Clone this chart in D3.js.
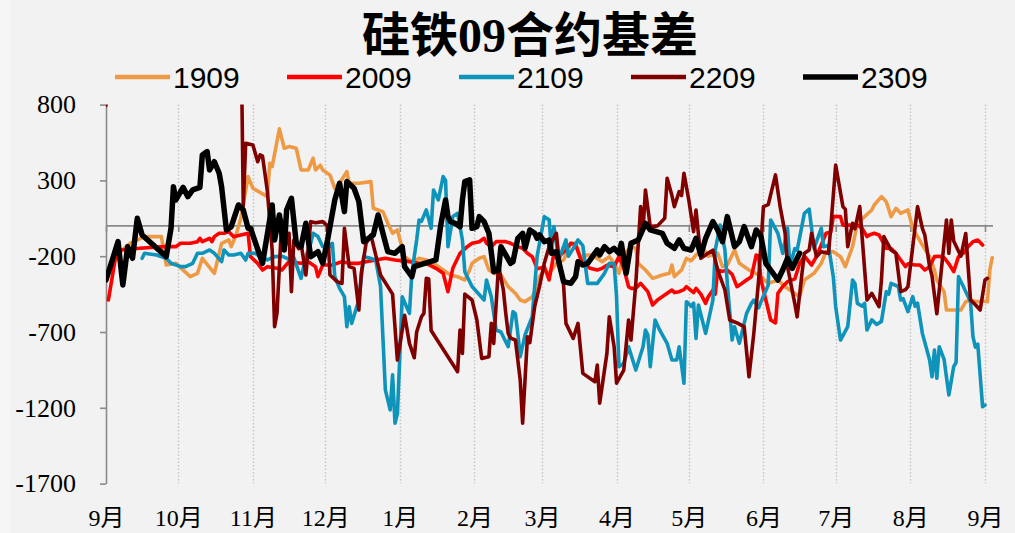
<!DOCTYPE html>
<html>
<head>
<meta charset="utf-8">
<script src="https://cdn.jsdelivr.net/npm/d3@7"></script>
<style>
  html, body { margin: 0; padding: 0; background: #f2f2f2; }
  svg { display: block; }
</style>
</head>
<body>
<svg id="chart" width="1015" height="533"></svg>
<script>
// Basis of the ferrosilicon September contracts, one series per contract year.
// Each point is [month-day, basis]; the year rolls over when the month wraps.
const s1909 = [["09-03",-269],["09-07",-170],["09-11",-115],["09-17",-71],["09-24",-71],["09-26",-258],["09-30",-247],["10-06",-335],["10-09",-313],["10-11",-214],["10-16",-313],["10-19",-115],["10-22",-93],["10-23",-137],["10-25",-60],["10-27",50],["10-30",325],["11-01",248],["11-07",193],["11-08",413],["11-09",391],["11-12",640],["11-14",512],["11-16",523],["11-19",512],["11-21",369],["11-24",369],["11-26",446],["11-27",369],["11-29",400],["11-30",369],["12-03",336],["12-05",248],["12-07",281],["12-10",358],["12-11",281],["12-15",281],["12-20",292],["12-21",116],["12-23",105],["12-25",94],["12-27",17],["12-29",-49],["12-31",-27],["01-02",-148],["01-03",-203],["01-06",-236],["01-09",-214],["01-12",-225],["01-15",-247],["01-18",-280],["01-22",-324],["01-25",-335],["01-28",-357],["01-30",-291],["01-31",-247],["02-03",-214],["02-05",-203],["02-07",-291],["02-09",-313],["02-12",-324],["02-15",-401],["02-18",-445],["02-20",-489],["02-22",-500],["02-25",-467],["02-27",-401],["02-28",-335],["03-02",-291],["03-04",-313],["03-07",-247],["03-10",-225],["03-13",-115],["03-15",-115],["03-17",-203],["03-20",-192],["03-22",-192],["03-26",-236],["03-29",-203],["03-31",-247],["04-02",-313],["04-04",-192],["04-07",-137],["04-09",-148],["04-10",-247],["04-13",-291],["04-16",-346],["04-20",-324],["04-23",-313],["04-24",-258],["04-25",-335],["04-28",-291],["04-30",-214],["05-02",-230],["05-04",-192],["05-07",-148],["05-09",-200],["05-13",-181],["05-15",-269],["05-17",-258],["05-20",-159],["05-22",-247],["05-26",-291],["05-30",-324],["06-03",-379],["06-07",-357],["06-10",-401],["06-13",-434],["06-16",-467],["06-18",-357],["06-22",-313],["06-25",-247],["06-27",-170],["06-30",-170],["07-03",-203],["07-05",-269],["07-08",-137],["07-10",17],["07-13",61],["07-16",105],["07-17",138],["07-20",193],["07-22",160],["07-24",61],["07-26",116],["07-28",83],["07-31",105],["08-02",-16],["08-04",-71],["08-06",-126],["08-09",-203],["08-11",-291],["08-12",-357],["08-15",-434],["08-16",-555],["08-19",-555],["08-22",-555],["08-24",-500],["08-26",-490],["08-29",-500],["08-31",-495],["09-02",-500],["09-03",-291],["09-04",-210]];

const s2009 = [["09-02",-489],["09-05",-203],["09-07",-159],["09-15",-148],["09-25",-137],["09-30",-137],["10-02",-115],["10-06",-115],["10-09",-104],["10-10",-82],["10-11",-104],["10-14",-82],["10-15",-104],["10-16",-71],["10-18",-49],["10-20",-49],["10-22",-38],["10-24",-71],["10-27",-60],["10-30",-49],["10-31",-203],["11-03",-247],["11-05",-291],["11-07",-269],["11-11",-280],["11-13",-291],["11-16",-236],["11-21",-247],["11-24",-236],["11-27",-269],["11-28",-335],["11-30",-258],["12-04",-258],["12-08",-236],["12-11",-247],["12-15",-247],["12-18",-236],["12-22",-225],["12-26",-214],["12-30",-225],["01-05",-236],["01-09",-247],["01-12",-247],["01-16",-280],["01-19",-313],["01-21",-434],["01-23",-280],["01-24",-247],["01-26",-181],["01-29",-137],["01-31",-115],["02-03",-104],["02-05",-82],["02-06",-115],["02-08",-137],["02-10",-104],["02-14",-104],["02-16",-115],["02-19",-137],["02-21",-148],["02-23",-181],["02-25",-203],["02-27",-280],["02-28",-280],["03-02",-269],["03-04",-357],["03-06",-181],["03-08",-203],["03-11",-159],["03-13",-115],["03-15",-125],["03-17",-214],["03-19",-258],["03-21",-280],["03-24",-291],["03-26",-280],["03-28",-260],["03-31",-269],["04-02",-203],["04-04",-280],["04-06",-401],["04-07",-412],["04-09",-412],["04-11",-379],["04-14",-434],["04-16",-522],["04-18",-489],["04-21",-456],["04-24",-423],["04-25",-440],["04-27",-434],["04-29",-420],["04-30",-401],["05-03",-440],["05-04",-412],["05-06",-450],["05-08",-511],["05-09",-470],["05-11",-423],["05-12",-450],["05-13",-291],["05-15",-300],["05-17",-291],["05-19",-320],["05-21",-401],["05-23",-380],["05-25",-357],["05-27",-335],["05-29",-192],["05-30",-200],["05-31",-357],["06-02",-489],["06-04",-621],["06-06",-640],["06-07",-445],["06-09",-400],["06-11",-368],["06-14",-350],["06-16",-250],["06-18",-200],["06-21",-258],["06-23",-203],["06-27",-49],["06-29",-40],["06-30",61],["07-03",61],["07-04",5],["07-07",5],["07-10",5],["07-12",-16],["07-14",-71],["07-15",-60],["07-17",-49],["07-19",-60],["07-22",-148],["07-24",-150],["07-26",-181],["07-28",-225],["07-30",-269],["07-31",-250],["08-03",-258],["08-05",-258],["08-07",-291],["08-09",-270],["08-11",-203],["08-13",-200],["08-15",-210],["08-17",-250],["08-19",-302],["08-21",-203],["08-23",-180],["08-25",-137],["08-27",-104],["08-29",-93],["08-31",-126]];

const s2109 = [["09-16",-214],["09-17",-181],["09-22",-192],["09-26",-214],["09-28",-247],["10-02",-269],["10-04",-269],["10-07",-247],["10-09",-181],["10-11",-181],["10-14",-159],["10-16",-181],["10-19",-236],["10-20",-159],["10-22",-192],["10-24",-192],["10-27",-181],["10-29",-225],["10-30",-181],["11-02",-181],["11-04",-203],["11-07",-225],["11-10",-203],["11-13",-200],["11-16",-220],["11-18",-210],["11-21",-346],["11-23",-203],["11-25",-115],["11-26",-49],["11-28",-70],["11-30",-137],["12-02",-150],["12-04",-115],["12-05",-335],["12-07",-412],["12-09",-467],["12-10",-665],["12-11",-533],["12-12",-643],["12-15",-489],["12-17",-203],["12-19",-210],["12-22",-225],["12-24",-401],["12-26",-1082],["12-28",-1214],["12-29",-983],["12-30",-1302],["12-31",-1240],["01-01",-860],["01-02",-467],["01-05",-577],["01-06",-313],["01-08",-93],["01-09",39],["01-10",30],["01-12",105],["01-14",-16],["01-15",237],["01-17",171],["01-19",325],["01-20",300],["01-21",-137],["01-23",61],["01-25",83],["01-27",-93],["01-28",-302],["01-31",-400],["02-05",-489],["02-06",-357],["02-08",-467],["02-10",-687],["02-12",-700],["02-15",-797],["02-17",-566],["02-18",-580],["02-19",-709],["02-20",-863],["02-22",-720],["02-25",-599],["02-27",-203],["02-28",-115],["03-02",61],["03-04",40],["03-05",-159],["03-06",-5],["03-08",-225],["03-11",-93],["03-12",-200],["03-14",-150],["03-16",-93],["03-18",-130],["03-20",-379],["03-24",-379],["03-27",-313],["03-29",-247],["03-31",-250],["04-01",-467],["04-02",-929],["04-04",-907],["04-06",-797],["04-09",-951],["04-12",-797],["04-13",-687],["04-14",-720],["04-15",-929],["04-17",-621],["04-19",-690],["04-22",-775],["04-24",-885],["04-26",-885],["04-27",-797],["04-29",-1038],["04-30",-500],["05-02",-530],["05-03",-510],["05-04",-742],["05-05",-522],["05-08",-709],["05-11",-489],["05-12",-159],["05-14",5],["05-16",-159],["05-17",-379],["05-19",-753],["05-20",-665],["05-22",-775],["05-25",-577],["05-27",-511],["05-28",-490],["05-30",-540],["05-31",-500],["06-03",-390],["06-04",39],["06-07",-49],["06-09",-181],["06-11",-16],["06-12",-269],["06-14",-150],["06-15",-160],["06-18",83],["06-20",110],["06-22",-148],["06-25",-16],["06-26",-137],["06-28",-130],["06-30",-335],["07-01",-533],["07-03",-753],["07-06",-665],["07-08",-357],["07-09",-380],["07-10",-511],["07-12",-530],["07-13",-511],["07-14",-687],["07-16",-620],["07-18",-650],["07-20",-630],["07-22",-434],["07-23",-450],["07-24",-379],["07-27",-400],["07-28",-489],["07-29",-480],["07-31",-566],["08-02",-467],["08-03",-530],["08-04",-510],["08-06",-709],["08-09",-885],["08-10",-995],["08-11",-819],["08-12",-1005],["08-13",-797],["08-15",-880],["08-17",-1115],["08-19",-929],["08-20",-900],["08-21",-335],["08-23",-400],["08-25",-467],["08-26",-500],["08-27",-731],["08-28",-800],["08-29",-780],["08-31",-1193],["09-01",-1182]];

const s2209 = [["09-01",795],["09-02",1600],["10-26",1600],["10-27",1400],["10-28",130],["10-29",545],["11-01",534],["11-03",423],["11-04",468],["11-05",460],["11-07",230],["11-09",-159],["11-10",-665],["11-11",-577],["11-13",39],["11-14",-159],["11-16",-49],["11-17",-434],["11-18",-93],["11-20",-150],["11-21",-115],["11-23",-324],["11-25",28],["11-27",20],["11-30",28],["12-02",0],["12-03",-324],["12-06",-368],["12-08",-380],["12-09",-16],["12-11",-269],["12-13",-280],["12-15",-555],["12-16",-313],["12-18",-115],["12-20",-60],["12-24",-324],["12-29",-450],["12-31",-885],["01-03",-590],["01-05",-775],["01-07",-870],["01-08",-700],["01-10",-599],["01-11",-577],["01-12",-346],["01-13",-350],["01-14",-690],["01-25",-962],["01-26",-687],["01-27",-841],["01-28",-450],["01-31",-489],["02-02",-621],["02-04",-874],["02-07",-863],["02-08",-643],["02-09",-775],["02-11",-260],["02-13",-423],["02-14",-577],["02-15",-709],["02-16",-740],["02-18",-753],["02-20",-1016],["02-21",-1302],["02-23",-731],["02-24",-770],["02-26",-533],["02-28",-401],["03-02",-247],["03-04",-137],["03-07",-49],["03-08",-203],["03-10",-390],["03-11",-643],["03-14",-742],["03-16",-643],["03-18",-973],["03-23",-1028],["03-24",-918],["03-25",-1170],["03-28",-841],["03-29",-599],["03-31",-797],["04-01",-1038],["04-04",-951],["04-06",-621],["04-07",-753],["04-09",-380],["04-11",127],["04-12",-27],["04-13",237],["04-15",-5],["04-18",0],["04-21",50],["04-22",314],["04-24",200],["04-25",127],["04-27",226],["04-28",200],["04-29",347],["05-01",171],["05-03",-38],["05-04",105],["05-06",-214],["05-09",-181],["05-11",-160],["05-13",-291],["05-16",-423],["05-18",-621],["05-21",-640],["05-24",-665],["05-26",-995],["05-28",-709],["05-30",-357],["06-01",127],["06-03",140],["06-06",336],["06-08",120],["06-10",-49],["06-11",-269],["06-14",-511],["06-15",-600],["06-17",-313],["06-18",-181],["06-20",-159],["06-21",-49],["06-23",-203],["06-25",-170],["06-28",-181],["06-29",-5],["07-01",402],["07-04",127],["07-05",110],["07-06",-137],["07-08",17],["07-09",-20],["07-11",127],["07-14",-489],["07-16",-445],["07-19",-533],["07-20",-357],["07-21",-71],["07-24",-159],["07-26",-181],["07-28",-434],["07-30",-420],["07-31",-401],["08-04",127],["08-06",-16],["08-07",-60],["08-09",-269],["08-10",-330],["08-12",-580],["08-16",39],["08-17",-181],["08-18",39],["08-19",-100],["08-22",-200],["08-24",-50],["08-26",-489],["08-28",-520],["08-30",-555],["09-01",-357],["09-02",-346]];

const s2309 = [["09-01",-357],["09-06",-104],["09-08",-390],["09-10",-137],["09-12",-214],["09-14",50],["09-16",-60],["09-26",-203],["09-28",-16],["09-29",258],["09-30",171],["10-03",254],["10-05",193],["10-07",237],["10-10",254],["10-11",468],["10-13",490],["10-14",369],["10-16",423],["10-18",347],["10-19",258],["10-21",-27],["10-23",-5],["10-26",138],["10-28",105],["10-30",-16],["10-31",-16],["11-05",-247],["11-09",138],["11-10",-93],["11-12",72],["11-14",-159],["11-15",105],["11-17",182],["11-19",-115],["11-21",-137],["11-23",17],["11-25",-203],["11-28",-170],["11-30",-247],["12-02",-93],["12-05",171],["12-07",281],["12-09",94],["12-10",292],["12-13",248],["12-15",160],["12-17",-104],["12-21",-60],["12-23",72],["12-25",-49],["12-27",-170],["12-30",-181],["01-02",-137],["01-03",-269],["01-04",-291],["01-06",-335],["01-07",-269],["01-16",-225],["01-18",5],["01-20",171],["01-21",61],["01-22",28],["01-24",17],["01-26",-5],["01-27",171],["01-28",292],["01-30",303],["01-31",-16],["02-02",-5],["02-03",61],["02-05",28],["02-07",-49],["02-09",-302],["02-11",-291],["02-12",-137],["02-14",-192],["02-16",-247],["02-17",-236],["02-19",-82],["02-21",-49],["02-22",-148],["02-24",-27],["02-26",-49],["02-27",-82],["02-28",-60],["03-02",-104],["03-04",-93],["03-05",-181],["03-07",-170],["03-10",-368],["03-13",-379],["03-15",-335],["03-16",-236],["03-18",-258],["03-20",-247],["03-22",-203],["03-24",-159],["03-25",-192],["03-27",-137],["03-29",-170],["03-31",-148],["04-02",-181],["04-03",-115],["04-05",-313],["04-07",-115],["04-10",-93],["04-13",17],["04-15",-27],["04-20",-49],["04-22",-115],["04-25",-148],["04-27",-93],["04-29",-148],["05-02",-159],["05-04",-82],["05-06",-192],["05-08",-82],["05-11",28],["05-13",-27],["05-15",-104],["05-17",61],["05-20",-137],["05-22",-104],["05-24",-5],["05-27",-137],["05-29",-27],["05-31",-71],["06-02",-247],["06-04",-291],["06-07",-357],["06-09",-291],["06-11",-214],["06-13",-280],["06-16",-181]];

const seriesNames  = ["1909", "2009", "2109", "2209", "2309"];
const seriesData   = [s1909, s2009, s2109, s2209, s2309];
const seriesColors = ["#EE9A45", "#FF0000", "#0E93BA", "#800000", "#000000"];
const monthLabels  = ["9月","10月","11月","12月","1月","2月","3月","4月","5月","6月","7月","8月","9月"];
const yTicks       = [800, 300, -200, -700, -1200, -1700];
const title        = "硅铁09合约基差";

// Map "MM-DD" strings onto one shared September-to-September axis.
function toPoints(rows) {
  let year = 2022, prev = 0;
  return rows.map(([md, v]) => {
    const [m, d] = md.split("-").map(Number);
    if (m < prev) year++;
    prev = m;
    return { date: new Date(Date.UTC(year, m - 1, d)), value: v };
  });
}

const W = 1015, H = 533;
const plot = { left: 106, right: 985, top: 104.6, bottom: 483.6, edge: 993 };
const svg = d3.select("#chart");
svg.append("rect").attr("width", W).attr("height", H).attr("fill", "#f2f2f2");
svg.append("rect").attr("width", 10).attr("height", H).attr("fill", "#f6f6f6");

const start = new Date(Date.UTC(2022, 8, 1));
const end   = new Date(Date.UTC(2023, 8, 1));
const x = d3.scaleUtc().domain([start, end]).range([plot.left, plot.right]);
const y = d3.scaleLinear().domain([-1700, 800]).range([plot.bottom, plot.top]);
const monthDates = d3.utcMonth.range(start, d3.utcDay.offset(end, 1));

// dotted month gridlines
svg.append("g").selectAll("line").data(monthDates.slice(1)).join("line")
  .attr("x1", d => Math.round(x(d)) + 0.5).attr("x2", d => Math.round(x(d)) + 0.5)
  .attr("y1", plot.top).attr("y2", plot.bottom)
  .attr("stroke", "#c4c4c4").attr("stroke-width", 1.4)
  .attr("stroke-dasharray", "1.5,2");

// zero line carrying the month tick marks
svg.append("line")
  .attr("x1", plot.left).attr("x2", plot.edge)
  .attr("y1", y(0)).attr("y2", y(0))
  .attr("stroke", "#8a8a8a").attr("stroke-width", 1.6);
const zeroAxis = svg.append("g").attr("transform", `translate(0,${y(0)})`)
  .call(d3.axisBottom(x).tickValues(monthDates).tickSize(6).tickFormat(""));
zeroAxis.select(".domain").remove();
zeroAxis.selectAll(".tick line").attr("stroke", "#8a8a8a").attr("stroke-width", 1.6);

// y axis
const yAxis = svg.append("g").attr("transform", `translate(${plot.left},0)`)
  .call(d3.axisLeft(y).tickValues(yTicks).tickSize(6).tickSizeOuter(0).tickPadding(24)
    .tickFormat(d => String(d)));
yAxis.select(".domain").attr("stroke", "#8a8a8a").attr("stroke-width", 1.6);
yAxis.selectAll(".tick line").attr("stroke", "#8a8a8a").attr("stroke-width", 1.6);
yAxis.selectAll(".tick text")
  .attr("fill", "#000")
  .style("font-family", "'Liberation Serif', 'Times New Roman', serif")
  .style("font-size", "26px");

// month labels along the bottom
const xAxis = svg.append("g").attr("transform", `translate(0,${plot.bottom})`)
  .call(d3.axisBottom(x).tickValues(monthDates).tickSize(0).tickPadding(25)
    .tickFormat((d, i) => monthLabels[i]));
xAxis.select(".domain").remove();
xAxis.selectAll(".tick text")
  .attr("fill", "#000")
  .style("font-family", "'Liberation Serif', 'Noto Sans CJK SC', serif")
  .style("font-size", "24px");

// series, clipped to the plot area
svg.append("defs").append("clipPath").attr("id", "plotClip")
  .append("rect")
  .attr("x", plot.left).attr("y", plot.top)
  .attr("width", plot.edge + 10 - plot.left).attr("height", plot.bottom - plot.top);

const line = d3.line().x(d => x(d.date)).y(d => y(d.value));
const gSeries = svg.append("g").attr("clip-path", "url(#plotClip)");
seriesData.forEach((rows, i) => {
  gSeries.append("path")
    .datum(toPoints(rows))
    .attr("fill", "none")
    .attr("stroke", seriesColors[i])
    .attr("stroke-width", i === 4 ? 5.5 : 3.6)
    .attr("stroke-linejoin", "round")
    .attr("stroke-linecap", "round")
    .attr("d", line);
});

// title
svg.append("text")
  .attr("x", 530).attr("y", 52)
  .attr("text-anchor", "middle")
  .style("font-family", "'Liberation Serif', 'Noto Sans CJK SC', serif")
  .style("font-weight", "bold")
  .style("font-size", "48px")
  .text(title);

// legend
const legend = svg.append("g");
seriesNames.forEach((name, i) => {
  const lx = 115 + i * 172;
  legend.append("line")
    .attr("x1", lx).attr("x2", lx + 55)
    .attr("y1", 77).attr("y2", 77)
    .attr("stroke", seriesColors[i])
    .attr("stroke-width", i === 4 ? 5.5 : 4.5);
  legend.append("text")
    .attr("x", lx + 58).attr("y", 88)
    .style("font-family", "'Liberation Sans', Arial, sans-serif")
    .style("font-size", "30px")
    .text(name);
});
</script>
</body>
</html>
